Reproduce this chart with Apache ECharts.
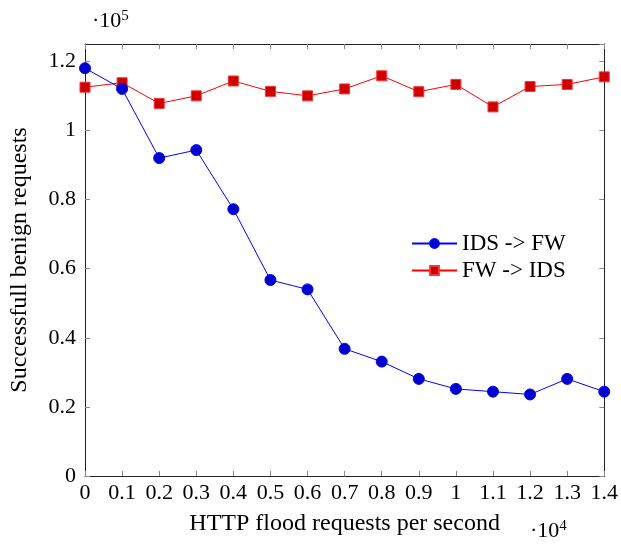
<!DOCTYPE html>
<html>
<head>
<meta charset="utf-8">
<script src="https://cdn.jsdelivr.net/npm/echarts@6/dist/echarts.min.js"></script>
<style>html,body{margin:0;padding:0;background:#fff}#c{width:621px;height:544px}</style>
</head>
<body>
<div id="c"></div>
<script>
const xValues = [0, 0.1, 0.2, 0.3, 0.4, 0.5, 0.6, 0.7, 0.8, 0.9, 1.0, 1.1, 1.2, 1.3, 1.4];
const idsToFw = [1.18, 1.12, 0.92, 0.943, 0.772, 0.567, 0.54, 0.368, 0.331, 0.281, 0.252, 0.244, 0.236, 0.281, 0.244];
const fwToIds = [1.125, 1.138, 1.078, 1.10, 1.143, 1.113, 1.10, 1.12, 1.158, 1.112, 1.133, 1.068, 1.127, 1.133, 1.155];
const seriesNames = ['IDS -> FW', 'FW -> IDS'];
const xTitle = 'HTTP flood requests per second';
const yTitle = 'Successfull benign requests';

const FONT = 'Liberation Serif';
const FS = 22;
const TFS = 24;
const chart = echarts.init(document.getElementById('c'), null, {renderer: 'canvas'});
const tickStyle = {show: true, inside: true, length: 5, lineStyle: {color: '#888', width: 1}};
const lineAxis = {show: true, onZero: false, lineStyle: {color: '#222', width: 1}};
const fmt = v => {
  const r = Math.round(v * 10) / 10;
  return String(+r.toFixed(1));
};
chart.setOption({
  animation: false,
  textStyle: {fontFamily: FONT},
  grid: {left: 85, right: 15, top: 44, bottom: 68},
  legend: {
    orient: 'vertical', left: 406, top: 227, itemWidth: 45, itemHeight: 11, itemGap: 4,
    textStyle: {fontFamily: FONT, fontSize: 23, color: '#000'},
    data: seriesNames
  },
  xAxis: [{
    type: 'value', min: 0, max: 1.4, interval: 0.1,
    axisLine: lineAxis, axisTick: tickStyle, splitLine: {show: false},
    axisLabel: {color: '#000', fontSize: FS, fontFamily: FONT, margin: 6, formatter: fmt},
    name: xTitle, nameLocation: 'middle', nameGap: 36,
    nameTextStyle: {color: '#000', fontSize: TFS, fontFamily: FONT}
  }, {
    type: 'value', min: 0, max: 1.4, interval: 0.1, position: 'top',
    axisLine: lineAxis, axisTick: tickStyle, axisLabel: {show: false}, splitLine: {show: false}
  }],
  yAxis: [{
    type: 'value', min: 0, max: 1.25, interval: 0.2,
    axisLine: lineAxis, axisTick: tickStyle, splitLine: {show: false},
    axisLabel: {color: '#000', fontSize: FS, fontFamily: FONT, margin: 9, showMaxLabel: false,
      formatter: v => (Math.abs(v * 5 - Math.round(v * 5)) < 1e-6 ? fmt(v) : '')},
    name: yTitle, nameLocation: 'middle', nameGap: 53, nameRotate: 90,
    nameTextStyle: {color: '#000', fontSize: TFS, fontFamily: FONT}
  }, {
    type: 'value', min: 0, max: 1.25, interval: 0.2, position: 'right',
    axisLine: lineAxis, axisTick: tickStyle, axisLabel: {show: false}, splitLine: {show: false}
  }],
  graphic: [
    {type: 'text', left: 92, top: 9, style: {text: '·10{s|5}', font: FS + 'px ' + FONT, fill: '#000',
      rich: {s: {fontSize: 15, fontFamily: FONT, padding: [0, 0, 10, 0]}}}},
    {type: 'text', left: 530, top: 519, style: {text: '·10{s|4}', font: FS + 'px ' + FONT, fill: '#000',
      rich: {s: {fontSize: 15, fontFamily: FONT, padding: [0, 0, 10, 0]}}}}
  ],
  series: [{
    name: seriesNames[0], type: 'line', data: xValues.map((x, i) => [x, idsToFw[i]]),
    symbol: 'circle', symbolSize: 11, lineStyle: {color: '#0000ff', width: 1},
    itemStyle: {color: '#0000cc', borderColor: '#0000ff', borderWidth: 1}, z: 3
  }, {
    name: seriesNames[1], type: 'line', data: xValues.map((x, i) => [x, fwToIds[i]]),
    symbol: 'rect', symbolSize: 10, lineStyle: {color: '#ff0000', width: 1},
    itemStyle: {color: '#cc0000', borderColor: '#ff3333', borderWidth: 1}, z: 2
  }]
});
</script>
</body>
</html>
